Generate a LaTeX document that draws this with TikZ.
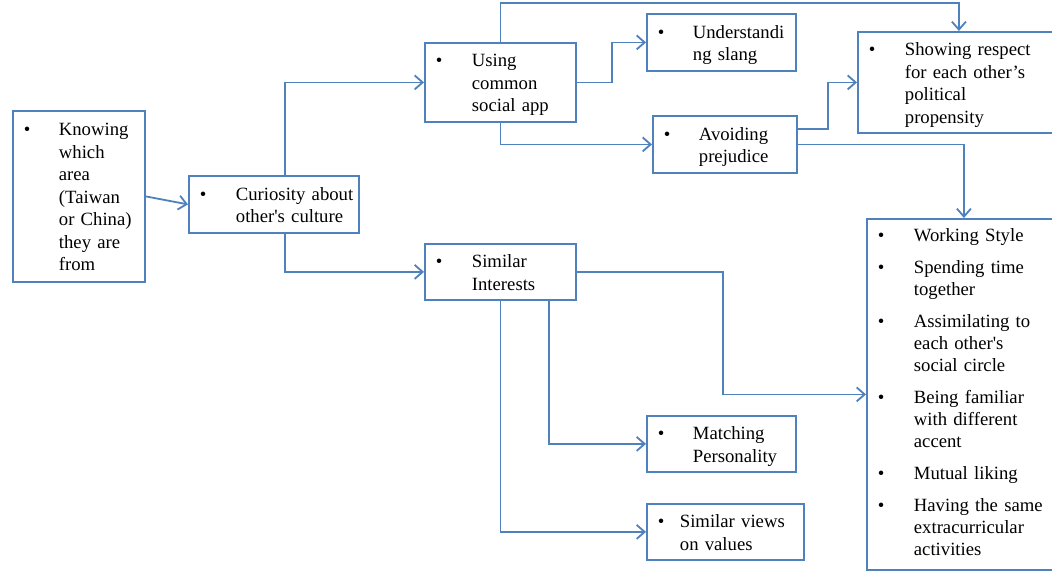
\documentclass[tikz,border=0pt]{standalone}
\usepackage{fontspec}
\setmainfont{Liberation Serif}
\usetikzlibrary{arrows.meta,positioning}
\definecolor{boxblue}{HTML}{4F81BD}
\newcommand{\bul}[2]{\noindent\makebox[#1][l]{\textbullet}%
  \begin{tabular}[t]{@{}l@{}}\rule{0pt}{20.75pt}#2\end{tabular}}

\begin{document}
\begin{tikzpicture}[x=1pt,y=-1pt,
  box/.style={draw=boxblue,line width=1.8pt,fill=white,inner xsep=11pt,
    inner ysep=0pt,align=left,anchor=north west,
    font=\fontsize{18.7}{22.5}\selectfont},
  link/.style={-{Straight Barb[length=8pt,width=14pt]},line width=1.8pt,
    boxblue}
]
  \useasboundingbox (0,0) rectangle (1052,571);

  \node[box,text width=110pt,minimum height=171pt] (area) at (12,110)
    {\bul{35pt}{Knowing\\which\\area\\(Taiwan\\or China)\\they are\\from}};
  \node[box,text width=148pt,minimum height=57pt] (curio) at (188,175)
    {\bul{36pt}{Curiosity about\\other\textquotesingle s culture}};
  \node[box,text width=129pt,minimum height=79pt] (social) at (424,42)
    {\bul{36pt}{Using\\common\\social app}};
  \node[box,text width=127pt,minimum height=57pt] (slang) at (646,13)
    {\bul{35pt}{Understandi\\ng slang}};
  \node[box,text width=180pt,minimum height=101pt] (respect) at (857,31)
    {\bul{36pt}{Showing respect\\for each other’s\\political\\propensity}};
  \node[box,text width=122pt,minimum height=57pt] (prejud) at (652,115)
    {\bul{35pt}{Avoiding\\prejudice}};
  \node[box,text width=129pt,minimum height=56pt] (interest) at (424,243)
    {\bul{36pt}{Similar\\Interests}};
  \node[box,text width=127pt,minimum height=56pt] (person) at (646,415)
    {\bul{35pt}{Matching\\Personality}};
  \node[box,text width=135pt,minimum height=56pt] (values) at (646,503)
    {\bul{22pt}{Similar views\\on values}};
  \node[box,text width=172pt,minimum height=351pt,
    font=\fontsize{18.7}{22}\selectfont] (bond) at (866,218)
    {\noindent\begin{tabular}{@{}p{36pt}@{}l@{}}
      \textbullet & Working Style\\[10pt]
      \textbullet & Spending time\\ & together\\[10pt]
      \textbullet & Assimilating to\\ & each other\textquotesingle s\\
        & social circle\\[10pt]
      \textbullet & Being familiar\\ & with different\\ & accent\\[10pt]
      \textbullet & Mutual liking\\[10pt]
      \textbullet & Having the same\\ & extracurricular\\ & activities
    \end{tabular}};

  \draw[link] (area.east) -- (curio.west);
  \draw[link] ([xshift=97pt]curio.north west) |- (social.west);
  \draw[link] ([xshift=97pt]curio.south west) |- (interest.west);
  \draw[link] (social.north) -- ++(0,-39) -| (respect.north);
  \draw[link] (social.east) -- ++(35,0) |- (slang.west);
  \draw[link] (social.south) |- (prejud.west);
  \draw[link] ([yshift=15.5pt]prejud.east) -- ++(30,0) |- (respect.west);
  \draw[link] (prejud.east) -| (bond.north);
  \draw[link] (interest.east) -- ++(146,0) |- (bond.west);
  \draw[link] ([xshift=48.5pt]interest.south) |- (person.west);
  \draw[link] (interest.south) |- (values.west);
\end{tikzpicture}
\end{document}
